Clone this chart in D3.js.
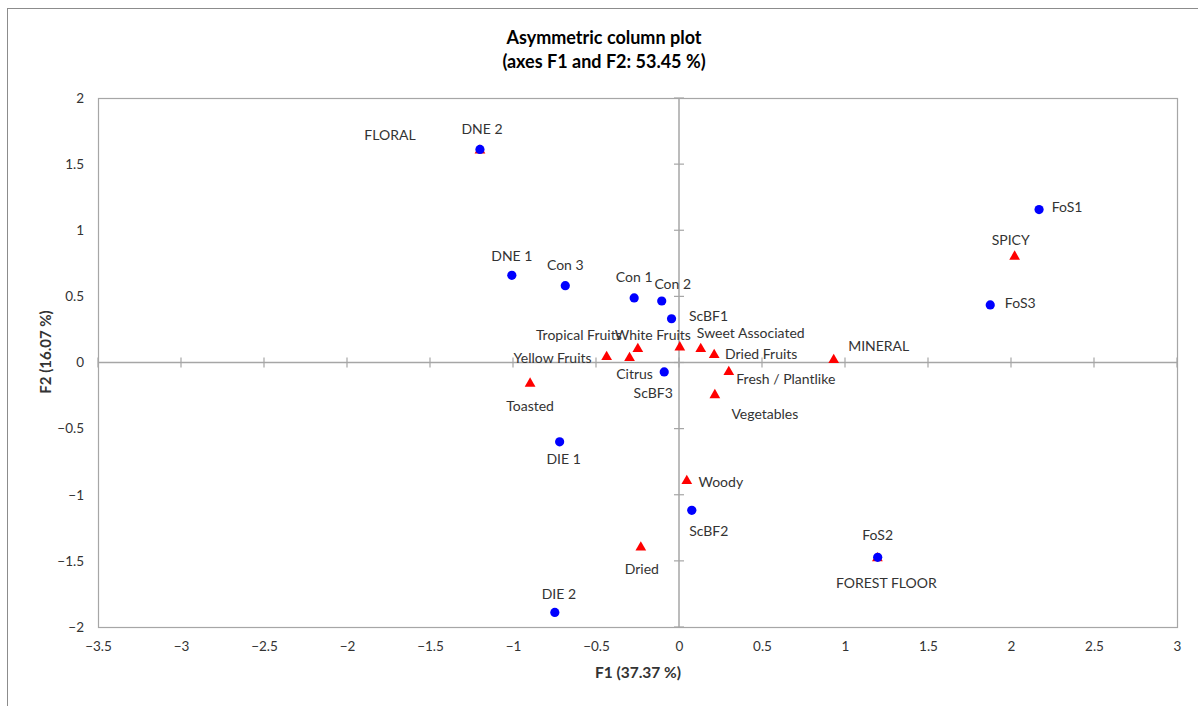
<!DOCTYPE html>
<html><head><meta charset="utf-8">
<script src="https://cdn.jsdelivr.net/npm/d3@7"></script>
<style>
html,body{margin:0;padding:0;background:#fff;}
text{font-family:Lato,"Open Sans",sans-serif;fill:#333;}
</style></head>
<body>
<svg id="chart" width="1198" height="706"></svg>
<script>
// ---- data ----
const obsNames = ["DNE 1","DNE 2","Con 1","Con 2","Con 3","ScBF1","ScBF2","ScBF3","DIE 1","DIE 2","FoS1","FoS2","FoS3"];
const obsF1 = [-1.007,-1.199,-0.270,-0.104,-0.685,-0.045,0.077,-0.089,-0.719,-0.748,2.169,1.197,1.875];
const obsF2 = [0.659,1.611,0.488,0.465,0.581,0.331,-1.118,-0.071,-0.600,-1.890,1.156,-1.473,0.435];

const varNames = ["FLORAL","SPICY","MINERAL","FOREST FLOOR","Toasted","Woody","Dried","Yellow Fruits","Citrus","Tropical Fruits","White Fruits","Sweet Associated","Dried Fruits","Fresh / Plantlike","Vegetables"];
const varF1 = [-1.199,2.022,0.932,1.195,-0.897,0.047,-0.230,-0.436,-0.298,-0.248,0.005,0.131,0.212,0.300,0.216];
const varF2 = [1.603,0.801,0.020,-1.479,-0.159,-0.895,-1.399,0.042,0.035,0.103,0.115,0.103,0.058,-0.071,-0.246];

const xTicks = [-3.5,-3,-2.5,-2,-1.5,-1,-0.5,0,0.5,1,1.5,2,2.5,3];
const yTicks = [-2,-1.5,-1,-0.5,0,0.5,1,1.5,2];

// label placement (offset of label centre from its marker, in px)
const obsLabelOffset = [[0,-20],[2,-21],[0,-21],[11,-18],[0,-21],[37,-3],[17,20],[-11,21],[4,17],[4,-19],[28,-3],[0,-23],[30,-2]];
const varLabelOffset = [[-90,-16],[-4,-17],[45,-14],[9,24],[0,22],[34,1],[1,21],[-54,1],[5,16],[-59,-14],[-27,-13],[50,-16],[47,-1],[57,7],[50,18]];

// ---- layout ----
const svg = d3.select("#chart");
const M = {left:98, top:98, right:1177, bottom:627};
const x = d3.scaleLinear().domain([-3.5,3]).range([M.left, M.right]);
const y = d3.scaleLinear().domain([-2,2]).range([M.bottom, M.top]);

// outer frame
svg.append("rect").attr("x",7.5).attr("y",8.5).attr("width",1300).attr("height",800)
  .attr("fill","none").attr("stroke","#8c8c8c").attr("stroke-width",1);

// title
svg.append("text").attr("x",604).attr("y",37).attr("text-anchor","middle").attr("dominant-baseline","central")
  .style("font-size","18px").style("font-weight","bold").style("fill","#000").text("Asymmetric column plot");
svg.append("text").attr("x",604).attr("y",61).attr("text-anchor","middle").attr("dominant-baseline","central")
  .style("font-size","18px").style("font-weight","bold").style("fill","#000").text("(axes F1 and F2: 53.45 %)");

// plot frame
svg.append("rect").attr("x",M.left+0.5).attr("y",M.top+0.5)
  .attr("width",M.right-M.left).attr("height",M.bottom-M.top)
  .attr("fill","none").attr("stroke","#a6a6a6").attr("stroke-width",1.2);

// outer axes (labels only)
const xAxis = d3.axisBottom(x).tickValues(xTicks).tickSize(0).tickPadding(14).tickFormat(d3.format("~g"));
const gx = svg.append("g").attr("transform",`translate(0,${M.bottom})`).call(xAxis);
gx.select(".domain").remove();
gx.selectAll("text").style("font-size","13.5px").style("font-family","Lato,sans-serif").attr("fill","#333");

const yAxis = d3.axisLeft(y).tickValues(yTicks).tickSize(0).tickPadding(14).tickFormat(d3.format("~g"));
const gy = svg.append("g").attr("transform",`translate(${M.left},0)`).call(yAxis);
gy.select(".domain").remove();
gy.selectAll("text").style("font-size","13.5px").style("font-family","Lato,sans-serif").attr("fill","#333");

// central axes
svg.append("line").attr("x1",x(-3.5)).attr("x2",x(3)).attr("y1",y(0)).attr("y2",y(0))
  .attr("stroke","#a6a6a6").attr("stroke-width",1.5);
svg.append("line").attr("x1",x(0)).attr("x2",x(0)).attr("y1",y(2)).attr("y2",y(-2))
  .attr("stroke","#a6a6a6").attr("stroke-width",1.5);
svg.append("g").selectAll("line").data(xTicks).join("line")
  .attr("x1",d=>x(d)).attr("x2",d=>x(d)).attr("y1",y(0)-5).attr("y2",y(0)+5)
  .attr("stroke","#a6a6a6").attr("stroke-width",1.2);
svg.append("g").selectAll("line").data(yTicks).join("line")
  .attr("x1",x(0)-5).attr("x2",x(0)+5).attr("y1",d=>y(d)).attr("y2",d=>y(d))
  .attr("stroke","#a6a6a6").attr("stroke-width",1.2);

// axis titles
svg.append("text").attr("x",638).attr("y",672).attr("text-anchor","middle").attr("dominant-baseline","central")
  .style("font-size","15.5px").style("font-weight","bold").style("fill","#333").text("F1 (37.37 %)");
svg.append("text").attr("transform","translate(45,352) rotate(-90)").attr("text-anchor","middle").attr("dominant-baseline","central")
  .style("font-size","15px").style("font-weight","bold").style("fill","#333").text("F2 (16.07 %)");

// variables (red triangles)
const vars = varNames.map((n,i)=>({n, f1:varF1[i], f2:varF2[i], o:varLabelOffset[i]}));
const obs = obsNames.map((n,i)=>({n, f1:obsF1[i], f2:obsF2[i], o:obsLabelOffset[i]}));
const tri = d3.symbol().type(d3.symbolTriangle).size(50);
svg.append("g").selectAll("path").data(vars).join("path")
  .attr("d",tri).attr("transform",d=>`translate(${x(d.f1)},${y(d.f2)})`).attr("fill","#ff0000");
// observations (blue dots)
svg.append("g").selectAll("circle").data(obs).join("circle")
  .attr("cx",d=>x(d.f1)).attr("cy",d=>y(d.f2)).attr("r",4.6).attr("fill","#0000ff");

// labels
const labels = vars.concat(obs);
svg.append("g").selectAll("text").data(labels).join("text")
  .attr("x",d=>x(d.f1)+d.o[0]).attr("y",d=>y(d.f2)+d.o[1])
  .attr("text-anchor","middle").attr("dominant-baseline","central")
  .style("font-size","14px").style("fill","#333").text(d=>d.n);
</script>
</body></html>
